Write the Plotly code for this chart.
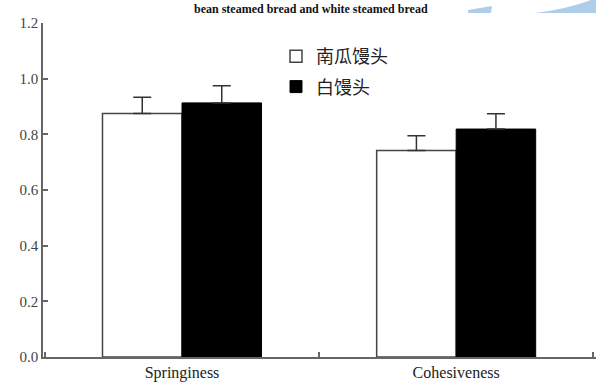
import plotly.graph_objects as go

categories = ["Springiness", "Cohesiveness"]
pumpkin_vals = [0.875, 0.742]
pumpkin_err = [0.058, 0.053]
white_vals = [0.913, 0.819]
white_err = [0.062, 0.055]
series_names = ["南瓜馒头", "白馒头"]
y_ticks = [0.0, 0.2, 0.4, 0.6, 0.8, 1.0, 1.2]
title_text = "bean steamed bread and white steamed bread"

W, H = 596, 383
L, R, T, B = 43, 0, 23, 26

def px(x):
    return (x - L) / (W - L - R)

def py(y):
    return (H - B - y) / (H - T - B)

fig = go.Figure()
fig.add_trace(go.Bar(
    x=categories, y=pumpkin_vals, name=series_names[0], legendgroup="a",
    marker=dict(color="white", line=dict(color="#444444", width=1.5)),
    error_y=dict(type="data", array=pumpkin_err, arrayminus=[0, 0], symmetric=False,
                 color="#333333", thickness=1.5, width=9),
))
fig.add_trace(go.Bar(
    x=categories, y=white_vals, name=series_names[1], legendgroup="b",
    marker=dict(color="black", line=dict(color="black", width=1)),
    error_y=dict(type="data", array=white_err, arrayminus=[0, 0], symmetric=False,
                 color="#333333", thickness=1.5, width=9),
))

serif = "Liberation Serif, Times New Roman, serif"
fig.update_layout(
    width=W, height=H,
    margin=dict(l=L, r=R, t=T, b=B, pad=0),
    paper_bgcolor="white", plot_bgcolor="white",
    barmode="group", bargap=0.42, bargroupgap=0,
    showlegend=True,
    legend=dict(
        x=px(276), y=py(38), xanchor="left", yanchor="top",
        font=dict(family="Noto Sans CJK SC", size=18, color="#222222"),
        bgcolor="rgba(0,0,0,0)", traceorder="grouped", tracegroupgap=4,
        itemwidth=30,
    ),
    xaxis=dict(
        type="category", range=[-0.507, 1.51],
        tickson="boundaries", ticks="inside", ticklen=5, tickwidth=1.5, tickcolor="#666666",
        showline=True, linecolor="#666666", linewidth=1.5,
        showgrid=False, zeroline=False,
        tickfont=dict(family=serif, size=16, color="#222222"),
    ),
    yaxis=dict(
        range=[0, 1.2], tickvals=y_ticks, tickformat=".1f",
        ticks="inside", ticklen=5, tickwidth=1.5, tickcolor="#666666",
        showline=True, linecolor="#666666", linewidth=1.5,
        showgrid=False, zeroline=False,
        tickfont=dict(family=serif, size=15, color="#444444"),
    ),
    shapes=[
        dict(type="path", xref="paper", yref="paper", layer="above",
             path=f"M {px(468)},{py(10)} L {px(492)},{py(6)} L {px(491)},{py(13)} L {px(468)},{py(13)} Z",
             fillcolor="#aecdeb", line=dict(width=0)),
        dict(type="path", xref="paper", yref="paper", layer="above",
             path=f"M {px(535)},{py(13)} Q {px(575)},{py(8)} {px(600)},{py(-4)} L {px(600)},{py(13)} Z",
             fillcolor="#aecdeb", line=dict(width=0)),
    ],
    annotations=[
        dict(text=f"<b>{title_text}</b>", xref="paper", yref="paper",
             x=px(311), y=py(0), xanchor="center", yanchor="top", showarrow=False,
             font=dict(family=serif, size=12, color="#111111")),
    ],
)

fig.write_html("out.html", config={"displayModeBar": False},
               post_script="document.body.style.margin='0';document.body.style.overflow='hidden';")
